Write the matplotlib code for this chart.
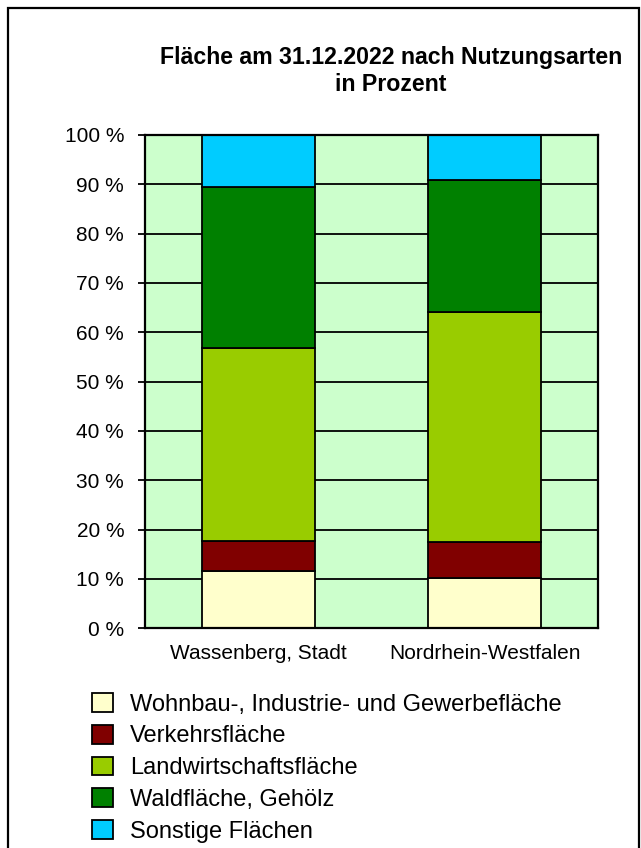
import numpy as np
import matplotlib.pyplot as plt
from matplotlib.patches import Patch, Rectangle

plt.rcParams['font.family'] = ['Liberation Sans', 'DejaVu Sans']

regions = ['Wassenberg, Stadt', 'Nordrhein-Westfalen']
categories = ['Wohnbau-, Industrie- und Gewerbefläche', 'Verkehrsfläche',
              'Landwirtschaftsfläche', 'Waldfläche, Gehölz', 'Sonstige Flächen']
wohnbau = [11.6, 10.1]
verkehr = [6.0, 7.3]
landwirtschaft = [39.2, 46.7]
wald = [32.7, 26.8]
sonstige = [10.5, 9.1]
colors = ['#FFFFCC', '#800000', '#99CC00', '#008000', '#00CCFF']
yticks = np.arange(0, 101, 10)

W, H = 641, 848
fig = plt.figure(figsize=(W / 100, H / 100), dpi=100)

# outer frame of the chart
fig.patches.append(Rectangle((8 / W, -0.01), 631 / W, 1 - 8 / H + 0.01,
                             transform=fig.transFigure, fill=False,
                             edgecolor='black', linewidth=1.6))

ax = fig.add_axes([145 / W, 1 - 628.3 / H, 453 / W, 493.3 / H])
ax.set_facecolor('#CCFFCC')

x = np.arange(len(regions))
bottom = np.zeros(len(regions))
for vals, col, lab in zip([wohnbau, verkehr, landwirtschaft, wald, sonstige], colors, categories):
    ax.bar(x, vals, width=0.5, bottom=bottom, color=col, edgecolor='black',
           linewidth=1.3, label=lab, zorder=3)
    bottom += np.array(vals)

ax.set_xlim(-0.5, 1.5)
ax.set_ylim(0, 100)
ax.set_yticks(yticks)
ax.set_yticklabels([f'{v} %' for v in yticks], fontsize=15)
ax.set_xticks(x)
ax.set_xticklabels(regions, fontsize=15)
ax.tick_params(axis='x', length=0, pad=11)
ax.tick_params(axis='y', length=5, width=1.3, pad=10)
ax.yaxis.grid(True, color='black', linewidth=1.3, zorder=1)
ax.set_axisbelow(True)
for s in ax.spines.values():
    s.set_linewidth(1.6)
    s.set_zorder(4)

fig.text(391 / W, 1 - 71 / H, 'Fläche am 31.12.2022 nach Nutzungsarten\nin Prozent',
         ha='center', va='center', fontsize=16.7, fontweight='bold', linespacing=1.2)

handles = [Patch(facecolor=c, edgecolor='black', linewidth=1.3) for c in colors]
fig.legend(handles, categories, loc='upper left', bbox_to_anchor=(92 / W, 1 - 693 / H),
           frameon=False, fontsize=17, handlelength=0.9, handleheight=0.85,
           handletextpad=0.72, labelspacing=0.39, borderaxespad=0, borderpad=0)

fig.savefig('out.png', dpi=100)
